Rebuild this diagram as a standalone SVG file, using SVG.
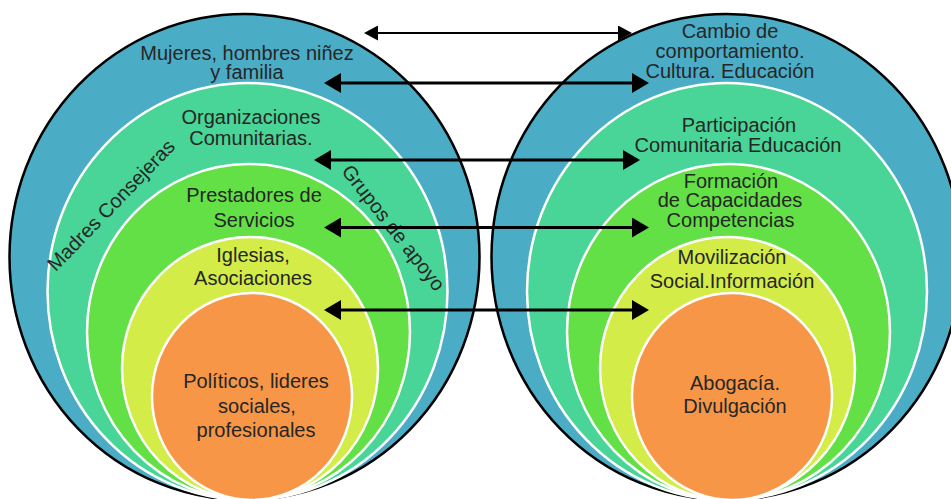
<svg xmlns="http://www.w3.org/2000/svg" width="951" height="499" viewBox="0 0 951 499">
<style>
text{font-family:"Liberation Sans",Arial,sans-serif;font-size:20px;fill:#262626;text-anchor:middle}
.outer{stroke:#000;stroke-width:2.5}
.inner{stroke:#fff;stroke-width:2.5}
.c1{fill:#4BACC6}.c2{fill:#48D597}.c3{fill:#62E046}.c4{fill:#D4EC47}.c5{fill:#F79646}
.arr{stroke:#000;fill:none}
</style>
<defs>
<marker id="ahS" markerUnits="userSpaceOnUse" viewBox="0 -7.5 14 15" markerWidth="14" markerHeight="15" refX="1" refY="0" orient="auto-start-reverse"><path d="M0,-7.5 L14,0 L0,7.5 z" fill="#000"/></marker>
<marker id="ahL" markerUnits="userSpaceOnUse" viewBox="0 -10 17 20" markerWidth="17" markerHeight="20" refX="1" refY="0" orient="auto-start-reverse"><path d="M0,-10 L17,0 L0,10 z" fill="#000"/></marker>
</defs>
<rect width="951" height="499" fill="#fff"/>
<g id="left">
<g id="L1"><ellipse class="outer c1" cx="244.5" cy="257" rx="235" ry="243"/>
<text x="247" y="60">Mujeres, hombres niñez</text><text x="247" y="79">y familia</text></g>
<g id="L2"><ellipse class="inner c2" cx="247.5" cy="291.5" rx="200" ry="208.5"/>
<text x="251" y="124">Organizaciones</text><text x="251" y="145">Comunitarias.</text></g>
<g id="L3"><ellipse class="inner c3" cx="248.5" cy="332" rx="161.5" ry="168"/>
<text x="254" y="202">Prestadores de</text><text x="254" y="227">Servicios</text></g>
<g id="L4"><ellipse class="inner c4" cx="250" cy="368.5" rx="128" ry="131.5"/>
<text x="253" y="262">Iglesias,</text><text x="253" y="285">Asociaciones</text></g>
<g id="L5"><ellipse class="inner c5" cx="252" cy="396.5" rx="100" ry="103.5"/>
<text x="256" y="388">Políticos, lideres</text><text x="257" y="413">sociales,</text><text x="256" y="437">profesionales</text></g>
<g id="L-madres"><text transform="translate(116,210) rotate(-46)">Madres Consejeras</text></g>
<g id="L-grupos"><text transform="translate(388,232) rotate(52)">Grupos de apoyo</text></g>
</g>
<g id="right">
<g id="R1"><ellipse class="outer c1" cx="726.5" cy="257" rx="235" ry="243"/>
<text x="730" y="38">Cambio de</text><text x="730" y="58">comportamiento.</text><text x="730" y="78">Cultura. Educación</text></g>
<g id="R2"><ellipse class="inner c2" cx="727" cy="291.5" rx="200" ry="208.5"/>
<text x="739" y="132">Participación</text><text x="738" y="152">Comunitaria Educación</text></g>
<g id="R3"><ellipse class="inner c3" cx="728.5" cy="332" rx="161.5" ry="168"/>
<text x="731" y="188">Formación</text><text x="730" y="207">de Capacidades</text><text x="730.5" y="227">Competencias</text></g>
<g id="R4"><ellipse class="inner c4" cx="727.5" cy="368.5" rx="127.5" ry="131.5"/>
<text x="732" y="264">Movilización</text><text x="732" y="288">Social.Información</text></g>
<g id="R5"><ellipse class="inner c5" cx="732" cy="396.5" rx="100" ry="103.5"/>
<text x="735" y="390">Abogacía.</text><text x="735" y="413">Divulgación</text></g>
</g>
<g id="connectors">
<line class="arr" x1="377" y1="33" x2="619" y2="33" stroke-width="2" marker-start="url(#ahS)" marker-end="url(#ahS)"/>
<line class="arr" x1="340" y1="83" x2="633" y2="83" stroke-width="3" marker-start="url(#ahL)" marker-end="url(#ahL)"/>
<line class="arr" x1="330" y1="160" x2="624" y2="160" stroke-width="3" marker-start="url(#ahL)" marker-end="url(#ahL)"/>
<line class="arr" x1="340" y1="227.5" x2="633" y2="227.5" stroke-width="3" marker-start="url(#ahL)" marker-end="url(#ahL)"/>
<line class="arr" x1="340" y1="310" x2="633" y2="310" stroke-width="3" marker-start="url(#ahL)" marker-end="url(#ahL)"/>
</g>
</svg>
